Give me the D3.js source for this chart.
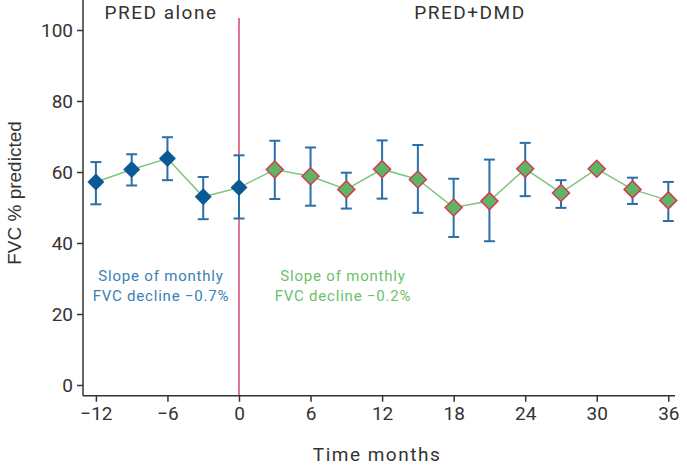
<!DOCTYPE html>
<html><head><meta charset="utf-8">
<script src="https://cdn.jsdelivr.net/npm/d3@7"></script>
<style>body{margin:0;background:#fff}svg{display:block;font-family:Roboto,"DejaVu Sans",sans-serif}</style>
</head><body><svg id="c" width="687" height="467"></svg>
<script>
const months = [-12,-9,-6,-3,0,3,6,9,12,15,18,21,24,27,30,33,36];
const means  = [57.2,60.7,63.8,53.0,55.6,60.7,58.8,55.1,60.8,57.9,50.0,51.8,60.9,54.1,60.9,55.1,52.0];
const upper  = [62.8,65.0,69.8,58.6,64.7,68.8,66.9,59.8,68.9,67.6,58.1,63.5,68.2,57.7,null,58.4,57.2];
const lower  = [50.9,56.2,57.7,46.7,46.9,52.4,50.5,49.7,52.5,48.5,41.7,40.5,53.2,49.9,null,51.0,46.2];
const phase  = ["PRED","PRED","PRED","PRED","PRED","DMD","DMD","DMD","DMD","DMD","DMD","DMD","DMD","DMD","DMD","DMD","DMD"];
const xTicks = [-12,-6,0,6,12,18,24,30,36];
const yTicks = [0,20,40,60,80,100];

const svg = d3.select("#c");
const x = d3.scaleLinear().domain([-12,36]).range([95.9,668.3]);
const y = d3.scaleLinear().domain([0,100]).range([385,30]);
const ink = "#333";

// axes lines
svg.append("line").attr("x1",83).attr("x2",83).attr("y1",0).attr("y2",395.7).attr("stroke",ink).attr("stroke-width",1.5);
svg.append("line").attr("x1",83).attr("x2",675).attr("y1",395.7).attr("y2",395.7).attr("stroke",ink).attr("stroke-width",1.5);

const yAx = svg.append("g").attr("transform","translate(83,0)")
  .call(d3.axisLeft(y).tickValues(yTicks).tickSize(6).tickPadding(4));
const xAx = svg.append("g").attr("transform","translate(0,395.7)")
  .call(d3.axisBottom(x).tickValues(xTicks).tickSize(6).tickPadding(5).tickFormat(d=>d<0?"\u2212"+(-d):d));
[yAx,xAx].forEach(g=>{
  g.select(".domain").remove();
  g.selectAll("line").attr("stroke",ink).attr("stroke-width",1.5);
  g.selectAll("text").attr("fill",ink).style("font-size","19px").style("font-family","Roboto,sans-serif");
});

// red vertical line
svg.append("line").attr("x1",x(0)).attr("x2",x(0)).attr("y1",18).attr("y2",395).attr("stroke","#d6476a").attr("stroke-width",1.5);

// axis labels
svg.append("text").attr("x",377).attr("y",461).attr("text-anchor","middle").attr("fill",ink)
  .style("font-size","19px").style("letter-spacing","1.5px").text("Time months");
svg.append("text").attr("transform","translate(21,193) rotate(-90)").attr("text-anchor","middle").attr("fill",ink)
  .style("font-family","'Liberation Sans',Arial,sans-serif").style("font-size","19px").text("FVC % predicted");

// phase titles
svg.append("text").attr("x",161).attr("y",18.5).attr("text-anchor","middle").attr("fill",ink)
  .style("font-size","19px").style("letter-spacing","1.5px").text("PRED alone");
svg.append("text").attr("x",470).attr("y",18.5).attr("text-anchor","middle").attr("fill",ink)
  .style("font-size","19px").style("letter-spacing","1.5px").text("PRED+DMD");

// slope notes
const blueT = svg.append("text").attr("text-anchor","middle").attr("fill","#3a7fb5").style("font-size","15px").style("letter-spacing","0.8px");
blueT.append("tspan").attr("x",161).attr("y",281).text("Slope of monthly");
blueT.append("tspan").attr("x",161).attr("y",301).text("FVC decline \u22120.7%");
const greenT = svg.append("text").attr("text-anchor","middle").attr("fill","#6cbf6c").style("font-size","15px").style("letter-spacing","0.8px");
greenT.append("tspan").attr("x",343).attr("y",281).text("Slope of monthly");
greenT.append("tspan").attr("x",343).attr("y",301).text("FVC decline \u22120.2%");

const data = months.map((m,i)=>({m,v:means[i],hi:upper[i],lo:lower[i],p:phase[i]}));

// connecting line
svg.append("path").datum(data)
  .attr("d",d3.line().x(d=>x(d.m)).y(d=>y(d.v)))
  .attr("fill","none").attr("stroke","#7dc67d").attr("stroke-width",1.5);

// error bars
const eb = svg.append("g").attr("stroke","#2a6fa8").attr("stroke-width",2);
data.filter(d=>d.hi!=null).forEach(d=>{
  eb.append("line").attr("x1",x(d.m)).attr("x2",x(d.m)).attr("y1",y(d.hi)).attr("y2",y(d.lo));
  eb.append("line").attr("x1",x(d.m)-5.5).attr("x2",x(d.m)+5.5).attr("y1",y(d.hi)).attr("y2",y(d.hi));
  eb.append("line").attr("x1",x(d.m)-5.5).attr("x2",x(d.m)+5.5).attr("y1",y(d.lo)).attr("y2",y(d.lo));
});

// diamonds
const diamond = r => `M0,${-r}L${r},0L0,${r}L${-r},0Z`;
svg.append("g").selectAll("path").data(data).join("path")
  .attr("transform",d=>`translate(${x(d.m)},${y(d.v)})`)
  .attr("d",diamond(8.5))
  .attr("fill",d=>d.p==="PRED"?"#0b5a96":"#5db565")
  .attr("stroke",d=>d.p==="PRED"?"none":"#d23c50")
  .attr("stroke-width",1.5);
</script></body></html>
